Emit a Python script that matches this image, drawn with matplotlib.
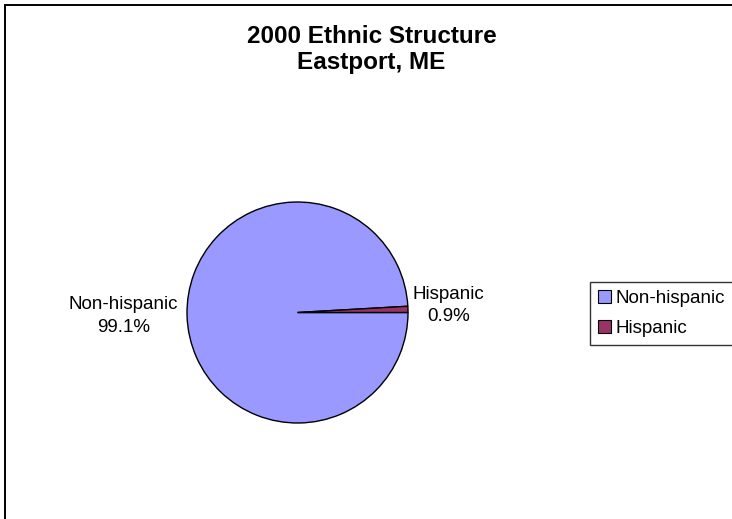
import numpy as np
import matplotlib
matplotlib.use("Agg")
import matplotlib.pyplot as plt
from matplotlib.patches import Rectangle, Patch

plt.rcParams['font.family'] = ['Liberation Sans', 'DejaVu Sans']

categories = ["Non-hispanic", "Hispanic"]
shares = [99.1, 0.9]
colors = ["#9999FF", "#993366"]
title_lines = ["2000 Ethnic Structure", "Eastport, ME"]

W, H = 732, 519
fig = plt.figure(figsize=(W / 100, H / 100), dpi=100)
fig.patch.set_facecolor("white")

# chart frame (its right and bottom sides run off the canvas)
fig.patches.append(Rectangle((5 / W, -0.1), 1.2, 1 - 5 / H + 0.1,
                             transform=fig.transFigure, fill=False,
                             edgecolor="black", linewidth=1.4, zorder=0))

title_x = 371.5 / W
fig.text(title_x, 1 - 36.5 / H, title_lines[0], ha="center", va="center",
         fontsize=17.5, fontweight="bold")
fig.text(title_x, 1 - 62.5 / H, title_lines[1], ha="center", va="center",
         fontsize=17.5, fontweight="bold")

# pie plot area
cx, cy, r = 297.5, 312.5, 110.5
ax = fig.add_axes([(cx - r) / W, (H - cy - r) / H, 2 * r / W, 2 * r / H])
start = 360 * shares[1] / 100.0
wedges, _ = ax.pie(shares, colors=colors, startangle=start, counterclock=True,
                   wedgeprops=dict(edgecolor="black", linewidth=1.0),
                   radius=1.0)
ax.set_xlim(-1.0, 1.0)
ax.set_ylim(-1.0, 1.0)
ax.set_aspect("equal")
ax.axis("off")

# data labels outside the wedges
label_dist = [1.575, 1.37]
label_dy = [0.01, 0.025]
for w, name, val, d, dy in zip(wedges, categories, shares, label_dist, label_dy):
    mid = np.deg2rad((w.theta1 + w.theta2) / 2)
    ax.text(d * np.cos(mid), d * np.sin(mid) + dy, f"{name}\n{val:.1f}%",
            ha="center", va="center", fontsize=13.5, linespacing=1.45,
            clip_on=False)

handles = [Patch(facecolor=c, edgecolor="black", linewidth=0.8) for c in colors]
leg = fig.legend(handles, categories, loc="upper left",
                 bbox_to_anchor=(590 / W, 1 - 282 / H), frameon=True,
                 fancybox=False, fontsize=13.5, handlelength=0.72,
                 handleheight=0.72, handletextpad=0.25, borderpad=0.4,
                 labelspacing=0.7, borderaxespad=0)
leg.get_frame().set_edgecolor("black")
leg.get_frame().set_linewidth(1.0)

fig.savefig("out.png", dpi=100)
